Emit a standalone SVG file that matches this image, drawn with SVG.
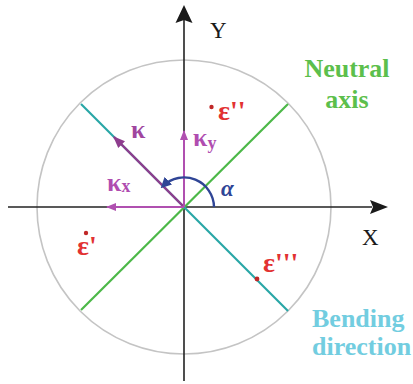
<svg xmlns="http://www.w3.org/2000/svg" width="413" height="384" viewBox="0 0 413 384">
<defs>
<style>
.ax{stroke:#222;stroke-width:1.6;fill:none}
text{font-family:"Liberation Serif","Times New Roman","DejaVu Serif",serif;font-weight:bold}
.eps{fill:#e23232;font-size:28px}
.kap{fill:#b04db0;font-size:26px}
</style>
<marker id="pk" viewBox="0 0 10 10" refX="9" refY="5" markerWidth="5" markerHeight="5" orient="auto"><path d="M0,1 L10,5 L0,9 Z" fill="#8e3d8e"/></marker>
<marker id="pm" viewBox="0 0 10 10" refX="9" refY="5" markerWidth="5" markerHeight="5" orient="auto"><path d="M0,1 L10,5 L0,9 Z" fill="#b050b0"/></marker>
<marker id="pb" viewBox="0 0 10 10" refX="7" refY="5" markerWidth="4.5" markerHeight="4.5" orient="auto"><path d="M0,0 L10,5 L0,10 Z" fill="#2f4596"/></marker>
</defs>
<rect width="413" height="384" fill="#fff"/>
<g id="circle"><circle cx="184" cy="207" r="147" fill="none" stroke="#c4c4c4" stroke-width="1.6"/></g>
<g id="axes">
<line class="ax" x1="184" y1="20" x2="184" y2="381"/>
<path d="M184,5 L192.5,23 L184,20 L175.5,23 Z" fill="#1a1a1a"/>
<line class="ax" x1="8" y1="207" x2="372" y2="207"/>
<path d="M388,207 L370,214 L373,207 L370,200 Z" fill="#1a1a1a"/>
<text x="210" y="38" font-size="23" style="font-weight:normal" fill="#1a1a1a">Y</text>
<text x="362" y="245" font-size="23" style="font-weight:normal" fill="#1a1a1a">X</text>
</g>
<g id="neutral-axis">
<line x1="81" y1="310" x2="288" y2="104" stroke="#4cb848" stroke-width="2.2"/>
<text x="347" y="77" font-size="26" fill="#5cbf4c" text-anchor="middle">Neutral</text>
<text x="347" y="108" font-size="26" fill="#5cbf4c" text-anchor="middle">axis</text>
</g>
<g id="bending-direction">
<line x1="81" y1="104" x2="288" y2="311" stroke="#28a6a6" stroke-width="2.2"/>
<text x="312" y="327" font-size="26" fill="#72cde0">Bending</text>
<text x="312" y="355" font-size="26" fill="#72cde0">direction</text>
</g>
<g id="connectors">
<line x1="184" y1="207" x2="114" y2="137" stroke="#8e3d8e" stroke-width="2.4" marker-end="url(#pk)"/>
<line x1="184" y1="207" x2="184" y2="131" stroke="#b050b0" stroke-width="2" marker-end="url(#pm)"/>
<line x1="184" y1="207" x2="107" y2="207" stroke="#b050b0" stroke-width="2" marker-end="url(#pm)"/>
<path d="M214,207 A30,30 0 0 0 163,186" fill="none" stroke="#2f4596" stroke-width="2.4" marker-end="url(#pb)"/>
</g>
<g id="kappa"><text class="kap" x="131" y="138" fill="#a0469f" style="fill:#a0469f">κ</text></g>
<g id="kappa-y"><text class="kap" x="193" y="146">κ<tspan font-size="18" dy="3">y</tspan></text></g>
<g id="kappa-x"><text class="kap" x="107" y="191">κ<tspan font-size="18" dy="1">x</tspan></text></g>
<g id="alpha"><text x="221" y="196" font-size="23" font-style="italic" fill="#2f4596">α</text></g>
<g id="eps2"><circle cx="211.5" cy="107" r="2.2" fill="#c02828"/><text class="eps" x="218" y="120">ε''</text></g>
<g id="eps1"><circle cx="86" cy="233" r="2.2" fill="#c02828"/><text class="eps" x="77" y="255">ε'</text></g>
<g id="eps3"><circle cx="257" cy="279" r="2.4" fill="#c02828"/><text class="eps" x="263" y="272">ε'''</text></g>
</svg>
